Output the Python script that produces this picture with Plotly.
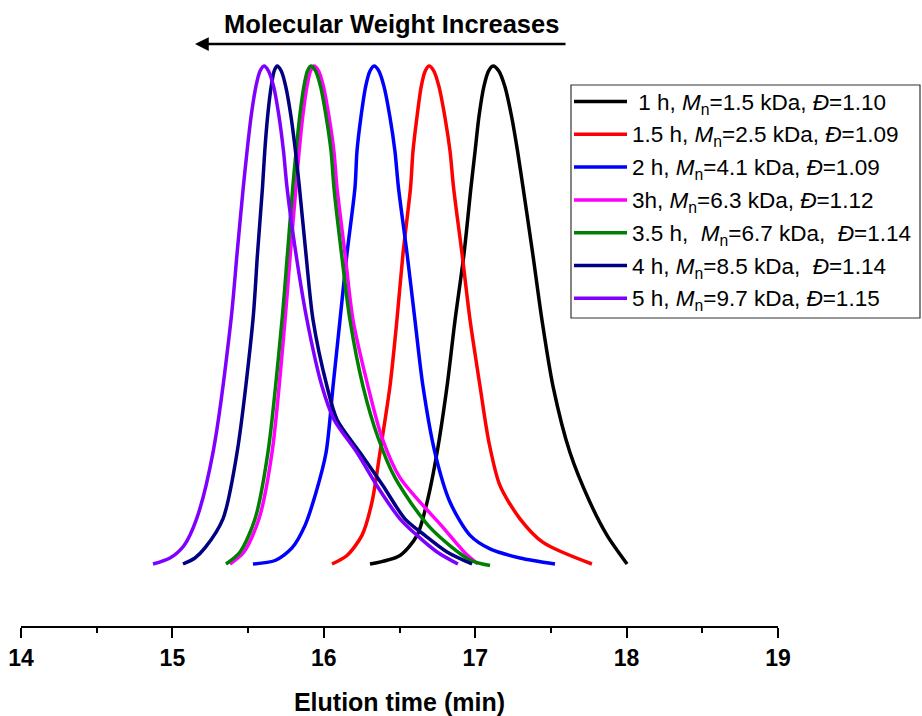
import plotly.graph_objects as go

# Normalised GPC traces (detector response vs. elution time, min)
t_1h = [16.305, 16.503, 16.616, 16.682, 16.748, 16.814, 16.867, 16.926, 16.972, 16.999, 17.025,
        17.058, 17.088, 17.118, 17.156, 17.195, 17.240, 17.280, 17.316, 17.380, 17.441, 17.514,
        17.626, 17.758, 17.871, 18.003]
s_1h = [0.008, 0.025, 0.065, 0.131, 0.23, 0.362, 0.494, 0.626, 0.758, 0.83, 0.90,
        0.96, 0.99, 1.0, 0.99, 0.96, 0.90, 0.83, 0.758, 0.626, 0.494, 0.362,
        0.23, 0.131, 0.065, 0.008]

t_1_5h = [16.054, 16.153, 16.252, 16.318, 16.371, 16.437, 16.483, 16.523, 16.573, 16.589, 16.616,
          16.644, 16.670, 16.695, 16.727, 16.760, 16.799, 16.834, 16.857, 16.913, 16.966, 17.032,
          17.091, 17.164, 17.296, 17.448, 17.771]
s_1_5h = [0.008, 0.025, 0.065, 0.131, 0.23, 0.362, 0.494, 0.626, 0.758, 0.83, 0.90,
          0.96, 0.99, 1.0, 0.99, 0.96, 0.90, 0.83, 0.758, 0.626, 0.494, 0.362,
          0.25, 0.164, 0.098, 0.051, 0.008]

t_2h = [15.532, 15.678, 15.790, 15.876, 15.948, 16.015, 16.061, 16.107, 16.153, 16.206, 16.219,
        16.246, 16.277, 16.305, 16.332, 16.364, 16.397, 16.436, 16.470, 16.493, 16.550, 16.602,
        16.655, 16.734, 16.834, 16.966, 17.098, 17.296, 17.527]
s_2h = [0.008, 0.015, 0.04, 0.085, 0.15, 0.23, 0.362, 0.494, 0.626, 0.758, 0.83,
        0.90, 0.96, 0.99, 1.0, 0.99, 0.96, 0.90, 0.83, 0.758, 0.626, 0.494,
        0.362, 0.23, 0.131, 0.065, 0.038, 0.02, 0.008]

t_3h = [15.380, 15.473, 15.572, 15.658, 15.744, 15.779, 15.816, 15.837, 15.861, 15.889, 15.912,
        15.935, 15.966, 15.997, 16.034, 16.067, 16.087, 16.140, 16.193, 16.292, 16.384, 16.503,
        16.787, 16.933, 17.018]
s_3h = [0.008, 0.032, 0.098, 0.23, 0.494, 0.626, 0.758, 0.83, 0.90, 0.96, 0.99,
        1.0, 0.99, 0.96, 0.90, 0.83, 0.758, 0.626, 0.494, 0.362, 0.26, 0.18,
        0.081, 0.03, 0.008]

t_3_5h = [15.354, 15.447, 15.546, 15.631, 15.724, 15.760, 15.795, 15.817, 15.841, 15.869, 15.892,
          15.915, 15.946, 15.978, 16.015, 16.048, 16.067, 16.117, 16.173, 16.259, 16.358, 16.470,
          16.701, 16.966, 17.098]
s_3_5h = [0.008, 0.032, 0.098, 0.23, 0.494, 0.626, 0.758, 0.83, 0.90, 0.96, 0.99,
          1.0, 0.99, 0.96, 0.90, 0.83, 0.758, 0.626, 0.494, 0.362, 0.26, 0.18,
          0.081, 0.016, 0.005]

t_4h = [15.070, 15.149, 15.215, 15.334, 15.427, 15.532, 15.562, 15.595, 15.610, 15.629, 15.653, 15.672,
        15.691, 15.719, 15.748, 15.783, 15.813, 15.839, 15.882, 15.929, 16.021, 16.087, 16.239,
        16.391, 16.536, 16.668, 16.814, 16.979]
s_4h = [0.008, 0.02, 0.04, 0.098, 0.23, 0.494, 0.626, 0.758, 0.83, 0.90, 0.96, 0.99,
        1.0, 0.99, 0.96, 0.90, 0.83, 0.758, 0.626, 0.494, 0.362, 0.296, 0.23,
        0.164, 0.098, 0.065, 0.032, 0.008]

t_5h = [14.872, 14.984, 15.077, 15.162, 15.268, 15.387, 15.427, 15.468, 15.493, 15.520, 15.552, 15.579,
        15.605, 15.635, 15.668, 15.704, 15.734, 15.757, 15.816, 15.889, 15.988, 16.067, 16.219,
        16.351, 16.503, 16.616, 16.748, 16.886]
s_5h = [0.008, 0.02, 0.045, 0.10, 0.23, 0.494, 0.626, 0.758, 0.83, 0.90, 0.96, 0.99,
        1.0, 0.99, 0.96, 0.90, 0.83, 0.758, 0.626, 0.494, 0.362, 0.296, 0.23,
        0.164, 0.098, 0.065, 0.032, 0.008]

labels = [
    " 1 h, <i>M</i><sub>n</sub>=1.5 kDa, <i>Đ</i>=1.10",
    "1.5 h, <i>M</i><sub>n</sub>=2.5 kDa, <i>Đ</i>=1.09",
    "2 h, <i>M</i><sub>n</sub>=4.1 kDa, <i>Đ</i>=1.09",
    "3h, <i>M</i><sub>n</sub>=6.3 kDa, <i>Đ</i>=1.12",
    "3.5 h,  <i>M</i><sub>n</sub>=6.7 kDa,  <i>Đ</i>=1.14",
    "4 h, <i>M</i><sub>n</sub>=8.5 kDa,  <i>Đ</i>=1.14",
    "5 h, <i>M</i><sub>n</sub>=9.7 kDa, <i>Đ</i>=1.15",
]
colors = ["#000000", "#ff0000", "#0000ff", "#ff00ff", "#008000", "#000080", "#7f00ff"]
times = [t_1h, t_1_5h, t_2h, t_3h, t_3_5h, t_4h, t_5h]
signals = [s_1h, s_1_5h, s_2h, s_3h, s_3_5h, s_4h, s_5h]

x_ticks = [14, 15, 16, 17, 18, 19]

FONT = "Arial, Liberation Sans, sans-serif"

fig = go.Figure()
for t, s, c, lab in zip(times, signals, colors, labels):
    fig.add_trace(go.Scatter(
        x=t, y=s, mode="lines", name=lab,
        line=dict(color=c, width=3.5, shape="spline", smoothing=0.8),
        showlegend=False,
    ))

# Legend drawn as a framed block to the right of the traces
L, R = 21, 757  # plot left offset and width in px
def px(xp):
    return (xp - L) / R
def py(yp):
    return (626 - yp) / 616

shapes = [dict(type="rect", xref="paper", yref="paper",
               x0=px(571), x1=px(920), y0=py(318), y1=py(85),
               line=dict(color="#333333", width=1.2), fillcolor="white", layer="above")]
annotations = []
for i, (c, lab) in enumerate(zip(colors, labels)):
    yy = 101.5 + i * 32.8
    shapes.append(dict(type="line", xref="paper", yref="paper",
                       x0=px(574), x1=px(627), y0=py(yy), y1=py(yy),
                       line=dict(color=c, width=3.5), layer="above"))
    annotations.append(dict(xref="paper", yref="paper", x=px(630), y=py(yy + 2),
                            text=lab, showarrow=False, xanchor="left", yanchor="middle",
                            font=dict(family=FONT, size=22.5, color="black")))

# Direction arrow and caption above the traces
annotations.append(dict(xref="paper", yref="paper", x=px(195), y=py(44),
                        ax=372, ay=0, axref="pixel", ayref="pixel",
                        text="", showarrow=True, arrowhead=2, arrowsize=1.1,
                        arrowwidth=2.5, arrowcolor="black"))
annotations.append(dict(xref="paper", yref="paper", x=px(391), y=py(24),
                        text="Molecular Weight Increases", showarrow=False,
                        xanchor="center", yanchor="middle",
                        font=dict(family=FONT, size=25.5, color="black", weight="bold")))

fig.update_layout(
    width=922, height=716,
    margin=dict(l=L, r=922 - L - R, t=10, b=90, autoexpand=False),
    paper_bgcolor="white", plot_bgcolor="white",
    shapes=shapes, annotations=annotations,
    xaxis=dict(
        range=[14, 19], tickvals=x_ticks, ticktext=[str(v) for v in x_ticks],
        showline=True, linecolor="black", linewidth=2,
        ticks="outside", ticklen=10, tickwidth=2, tickcolor="black",
        minor=dict(dtick=0.5, tick0=14, ticks="outside", ticklen=5, tickwidth=2, tickcolor="black"),
        showgrid=False, zeroline=False, automargin=False,
        ticklabelstandoff=0,
        tickfont=dict(family=FONT, size=23, color="black", weight="bold"),
        title=dict(text="Elution time (min)", standoff=27,
                   font=dict(family=FONT, size=25, color="black", weight="bold")),
    ),
    yaxis=dict(range=[-0.1155, 1.1116], visible=False, showgrid=False, zeroline=False),
)

fig.write_html("out.html")
